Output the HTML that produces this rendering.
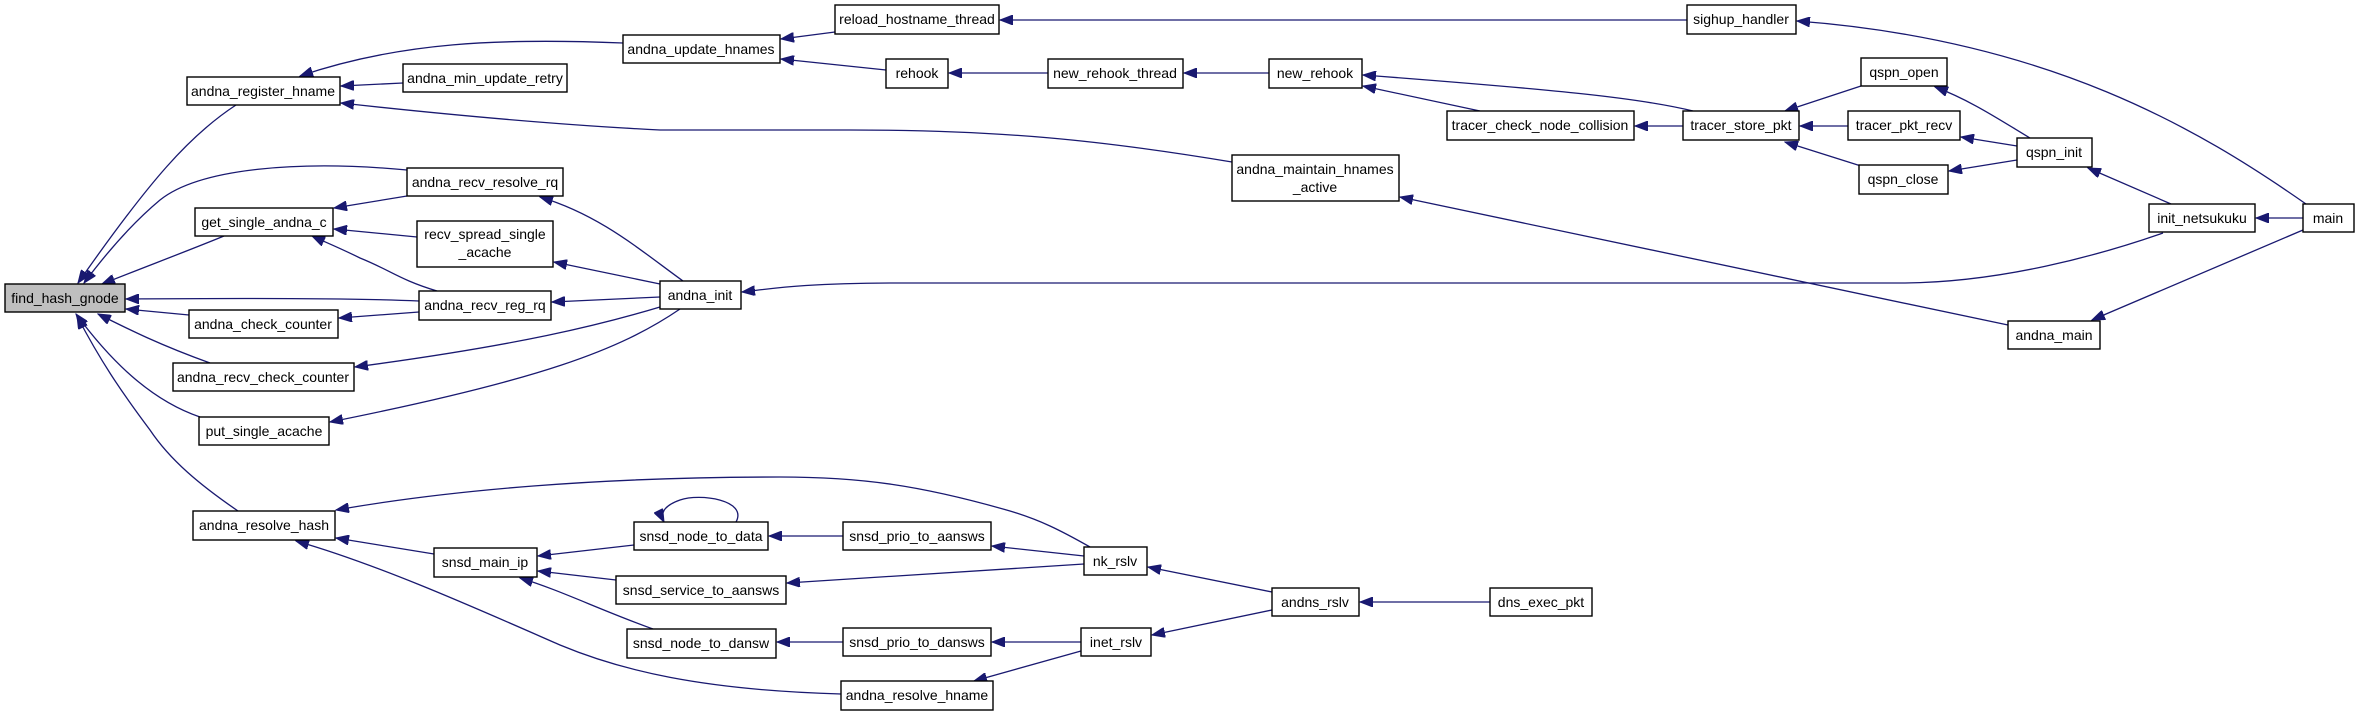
<!DOCTYPE html>
<html><head><meta charset="utf-8"><style>
html,body{margin:0;padding:0;background:#fff;}
svg{display:block;}
text{font-family:"Liberation Sans",Arial,sans-serif;font-size:14px;fill:#000;text-anchor:middle;}
.b{fill:#fff;stroke:#000;stroke-width:1.4;}
.e{fill:none;stroke:#191970;stroke-width:1.3;}
</style></head><body>
<svg width="2360" height="712" viewBox="0 0 2360 712" xmlns="http://www.w3.org/2000/svg">
<defs>
<marker id="a" markerUnits="userSpaceOnUse" markerWidth="14" markerHeight="10" refX="13" refY="5" orient="auto">
<path d="M0,0 L13,5 L0,10 z" fill="#191970" stroke="#191970"/>
</marker>
</defs>
<g class="e" marker-end="url(#a)">
<path d="M236,105 C190,135 150,180 78,283"/>
<path d="M407,170 C300,160 200,168 160,200 C130,225 105,255 84,283"/>
<path d="M224,236 C190,250 150,265 102,284"/>
<path d="M419,301 C350,298 250,298 126,299"/>
<path d="M189,315 L126,309"/>
<path d="M210,363 C160,345 130,330 98,314"/>
<path d="M200,417 C150,400 110,360 76,314"/>
<path d="M238,511 C200,485 170,460 150,430 C120,390 100,360 77,316"/>
<path d="M623,43 C500,38 400,42 300,76"/>
<path d="M403,83 L341,86"/>
<path d="M1232,162 C1100,140 1000,130 850,130 L660,130 C560,125 450,115 341,103"/>
<path d="M835,32 L781,39"/>
<path d="M886,70 L781,59"/>
<path d="M1687,20 L1000,20"/>
<path d="M1048,73 L949,73"/>
<path d="M1269,73 L1184,73"/>
<path d="M1693,111 C1640,98 1560,90 1363,75"/>
<path d="M1480,111 L1363,86"/>
<path d="M1683,126 L1635,126"/>
<path d="M1861,86 L1785,111"/>
<path d="M1848,126 L1800,126"/>
<path d="M1861,166 L1785,142"/>
<path d="M2030,138 C2000,120 1970,100 1935,87"/>
<path d="M2017,146 L1961,137"/>
<path d="M2017,160 L1949,171"/>
<path d="M2171,204 L2088,168"/>
<path d="M2303,218 L2256,218"/>
<path d="M2306,204 C2200,130 2050,40 1797,21"/>
<path d="M2163,233 C2100,255 2000,283 1900,283 L900,283 C800,283 770,289 742,292"/>
<path d="M2008,325 L1400,197"/>
<path d="M2303,230 L2092,320"/>
<path d="M683,281 C640,250 600,215 540,197"/>
<path d="M660,284 L554,262"/>
<path d="M660,297 L552,302"/>
<path d="M660,307 C600,325 520,345 355,367"/>
<path d="M680,309 C620,350 540,380 330,422"/>
<path d="M407,196 L334,208"/>
<path d="M417,237 L334,229"/>
<path d="M437,291 C400,280 390,270 360,258 C340,248 325,242 312,236"/>
<path d="M419,312 L339,318"/>
<path d="M1090,547 C1060,530 1040,520 1010,511 C920,485 860,477 780,477 C600,477 450,490 336,510"/>
<path d="M434,554 L336,538"/>
<path d="M841,694 C700,690 620,670 560,645 C480,610 380,565 296,541"/>
<path d="M634,545 L538,556"/>
<path d="M616,580 L538,571"/>
<path d="M653,629 C600,610 560,590 520,578"/>
<path d="M736,522 C748,500 700,493 680,500 C663,506 660,514 664,522"/>
<path d="M843,536 L769,536"/>
<path d="M1084,556 L992,546"/>
<path d="M1084,564 L787,583"/>
<path d="M843,642 L777,642"/>
<path d="M1081,642 L992,642"/>
<path d="M1081,651 L974,681"/>
<path d="M1272,592 L1148,567"/>
<path d="M1272,610 L1152,635"/>
<path d="M1490,602 L1360,602"/>
</g>
<g>
<rect x="5" y="284" width="120" height="28" fill="#bfbfbf" stroke="#000" stroke-width="1.4"/><text x="65" y="303">find_hash_gnode</text>
<rect class="b" x="187" y="77" width="153" height="28"/><text x="263" y="96">andna_register_hname</text>
<rect class="b" x="623" y="35" width="157" height="28"/><text x="701" y="54">andna_update_hnames</text>
<rect class="b" x="403" y="64" width="164" height="28"/><text x="485" y="83">andna_min_update_retry</text>
<rect class="b" x="407" y="168" width="156" height="28"/><text x="485" y="187">andna_recv_resolve_rq</text>
<rect class="b" x="195" y="208" width="138" height="28"/><text x="264" y="227">get_single_andna_c</text>
<rect class="b" x="417" y="221" width="136" height="46"/><text x="485" y="239">recv_spread_single</text><text x="485" y="257">_acache</text>
<rect class="b" x="660" y="281" width="81" height="28"/><text x="700" y="300">andna_init</text>
<rect class="b" x="419" y="291" width="132" height="29"/><text x="485" y="310">andna_recv_reg_rq</text>
<rect class="b" x="189" y="310" width="149" height="28"/><text x="263" y="329">andna_check_counter</text>
<rect class="b" x="173" y="363" width="181" height="28"/><text x="263" y="382">andna_recv_check_counter</text>
<rect class="b" x="199" y="417" width="130" height="28"/><text x="264" y="436">put_single_acache</text>
<rect class="b" x="193" y="511" width="142" height="29"/><text x="264" y="530">andna_resolve_hash</text>
<rect class="b" x="434" y="548" width="103" height="29"/><text x="485" y="567">snsd_main_ip</text>
<rect class="b" x="634" y="522" width="134" height="28"/><text x="701" y="541">snsd_node_to_data</text>
<rect class="b" x="616" y="576" width="170" height="28"/><text x="701" y="595">snsd_service_to_aansws</text>
<rect class="b" x="627" y="629" width="149" height="29"/><text x="701" y="648">snsd_node_to_dansw</text>
<rect class="b" x="835" y="5" width="164" height="29"/><text x="917" y="24">reload_hostname_thread</text>
<rect class="b" x="886" y="59" width="62" height="29"/><text x="917" y="78">rehook</text>
<rect class="b" x="1048" y="59" width="135" height="29"/><text x="1115" y="78">new_rehook_thread</text>
<rect class="b" x="1269" y="59" width="93" height="29"/><text x="1315" y="78">new_rehook</text>
<rect class="b" x="1447" y="111" width="187" height="29"/><text x="1540" y="130">tracer_check_node_collision</text>
<rect class="b" x="1232" y="155" width="167" height="46"/><text x="1315" y="174">andna_maintain_hnames</text><text x="1315" y="192">_active</text>
<rect class="b" x="843" y="522" width="148" height="28"/><text x="917" y="541">snsd_prio_to_aansws</text>
<rect class="b" x="1084" y="547" width="63" height="28"/><text x="1115" y="566">nk_rslv</text>
<rect class="b" x="1272" y="588" width="87" height="28"/><text x="1315" y="607">andns_rslv</text>
<rect class="b" x="1490" y="588" width="102" height="28"/><text x="1541" y="607">dns_exec_pkt</text>
<rect class="b" x="843" y="628" width="148" height="28"/><text x="917" y="647">snsd_prio_to_dansws</text>
<rect class="b" x="1081" y="628" width="70" height="28"/><text x="1116" y="647">inet_rslv</text>
<rect class="b" x="841" y="681" width="152" height="29"/><text x="917" y="700">andna_resolve_hname</text>
<rect class="b" x="1687" y="5" width="109" height="29"/><text x="1741" y="24">sighup_handler</text>
<rect class="b" x="1861" y="58" width="86" height="28"/><text x="1904" y="77">qspn_open</text>
<rect class="b" x="1683" y="111" width="116" height="29"/><text x="1741" y="130">tracer_store_pkt</text>
<rect class="b" x="1848" y="111" width="112" height="29"/><text x="1904" y="130">tracer_pkt_recv</text>
<rect class="b" x="1859" y="165" width="89" height="29"/><text x="1903" y="184">qspn_close</text>
<rect class="b" x="2017" y="138" width="75" height="29"/><text x="2054" y="157">qspn_init</text>
<rect class="b" x="2149" y="204" width="106" height="28"/><text x="2202" y="223">init_netsukuku</text>
<rect class="b" x="2303" y="204" width="51" height="28"/><text x="2328" y="223">main</text>
<rect class="b" x="2008" y="321" width="92" height="28"/><text x="2054" y="340">andna_main</text>
</g>
</svg>
</body></html>
